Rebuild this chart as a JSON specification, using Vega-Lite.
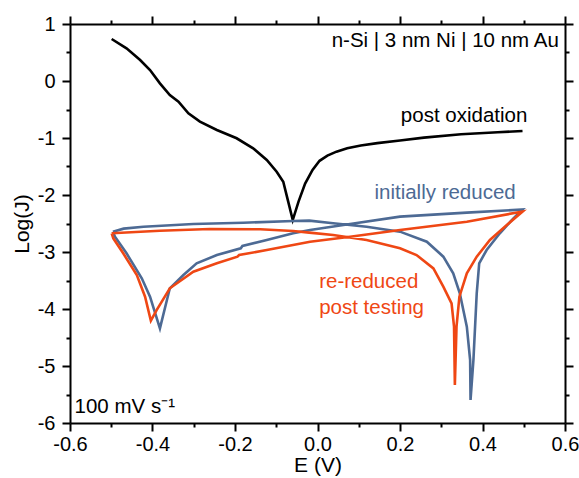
{
  "$schema": "https://vega.github.io/schema/vega-lite/v6.json",
  "width": 495,
  "height": 399,
  "autosize": "none",
  "padding": {"left": 70, "top": 24, "right": 14, "bottom": 55},
  "background": "white",
  "config": {
    "view": {"stroke": null},
    "font": "Liberation Sans",
    "axis": {
      "domainColor": "black", "domainWidth": 2, "tickColor": "black", "tickWidth": 2,
      "labelColor": "black", "labelFontSize": 20, "labelFont": "Liberation Sans",
      "titleColor": "black", "titleFontSize": 21, "titleFontWeight": "normal", "titleFont": "Liberation Sans",
      "grid": false, "labelFlush": false, "labelOverlap": false, "labelBound": false
    }
  },
  "datasets": {
    "curves": [
      {"s":"post","i":1,"E":-0.499,"J":0.737},
      {"s":"post","i":2,"E":-0.463,"J":0.573},
      {"s":"post","i":3,"E":-0.430,"J":0.368},
      {"s":"post","i":4,"E":-0.406,"J":0.193},
      {"s":"post","i":5,"E":-0.382,"J":-0.041},
      {"s":"post","i":6,"E":-0.358,"J":-0.246},
      {"s":"post","i":7,"E":-0.337,"J":-0.363},
      {"s":"post","i":8,"E":-0.313,"J":-0.567},
      {"s":"post","i":9,"E":-0.285,"J":-0.713},
      {"s":"post","i":10,"E":-0.244,"J":-0.860},
      {"s":"post","i":11,"E":-0.196,"J":-1.005},
      {"s":"post","i":12,"E":-0.156,"J":-1.181},
      {"s":"post","i":13,"E":-0.123,"J":-1.386},
      {"s":"post","i":14,"E":-0.099,"J":-1.591},
      {"s":"post","i":15,"E":-0.083,"J":-1.766},
      {"s":"post","i":16,"E":-0.071,"J":-2.117},
      {"s":"post","i":17,"E":-0.060,"J":-2.439},
      {"s":"post","i":18,"E":-0.046,"J":-2.117},
      {"s":"post","i":19,"E":-0.030,"J":-1.800},
      {"s":"post","i":20,"E":-0.012,"J":-1.560},
      {"s":"post","i":21,"E":0.005,"J":-1.400},
      {"s":"post","i":22,"E":0.024,"J":-1.310},
      {"s":"post","i":23,"E":0.046,"J":-1.240},
      {"s":"post","i":24,"E":0.072,"J":-1.180},
      {"s":"post","i":25,"E":0.105,"J":-1.130},
      {"s":"post","i":26,"E":0.145,"J":-1.090},
      {"s":"post","i":27,"E":0.200,"J":-1.045},
      {"s":"post","i":28,"E":0.258,"J":-0.993},
      {"s":"post","i":29,"E":0.348,"J":-0.935},
      {"s":"post","i":30,"E":0.437,"J":-0.900},
      {"s":"post","i":31,"E":0.497,"J":-0.876},

      {"s":"init","i":1,"E":-0.496,"J":-2.643},
      {"s":"init","i":2,"E":-0.470,"J":-2.590},
      {"s":"init","i":3,"E":-0.422,"J":-2.556},
      {"s":"init","i":4,"E":-0.301,"J":-2.509},
      {"s":"init","i":5,"E":-0.180,"J":-2.486},
      {"s":"init","i":6,"E":-0.059,"J":-2.456},
      {"s":"init","i":7,"E":-0.020,"J":-2.450},
      {"s":"init","i":8,"E":0.038,"J":-2.497},
      {"s":"init","i":9,"E":0.119,"J":-2.556},
      {"s":"init","i":10,"E":0.200,"J":-2.643},
      {"s":"init","i":11,"E":0.265,"J":-2.819},
      {"s":"init","i":12,"E":0.305,"J":-3.082},
      {"s":"init","i":13,"E":0.329,"J":-3.374},
      {"s":"init","i":14,"E":0.345,"J":-3.725},
      {"s":"init","i":15,"E":0.362,"J":-4.310},
      {"s":"init","i":16,"E":0.370,"J":-4.895},
      {"s":"init","i":17,"E":0.371,"J":-5.596},
      {"s":"init","i":18,"E":0.378,"J":-4.895},
      {"s":"init","i":19,"E":0.386,"J":-3.725},
      {"s":"init","i":20,"E":0.392,"J":-3.199},
      {"s":"init","i":21,"E":0.410,"J":-2.965},
      {"s":"init","i":22,"E":0.442,"J":-2.672},
      {"s":"init","i":23,"E":0.475,"J":-2.409},
      {"s":"init","i":24,"E":0.497,"J":-2.255},
      {"s":"init","i":25,"E":0.362,"J":-2.310},
      {"s":"init","i":26,"E":0.200,"J":-2.380},
      {"s":"init","i":27,"E":0.079,"J":-2.509},
      {"s":"init","i":28,"E":-0.018,"J":-2.614},
      {"s":"init","i":29,"E":-0.059,"J":-2.672},
      {"s":"init","i":30,"E":-0.123,"J":-2.789},
      {"s":"init","i":31,"E":-0.182,"J":-2.895},
      {"s":"init","i":32,"E":-0.186,"J":-2.936},
      {"s":"init","i":33,"E":-0.244,"J":-3.053},
      {"s":"init","i":34,"E":-0.293,"J":-3.199},
      {"s":"init","i":35,"E":-0.325,"J":-3.404},
      {"s":"init","i":36,"E":-0.358,"J":-3.637},
      {"s":"init","i":37,"E":-0.382,"J":-4.339},
      {"s":"init","i":38,"E":-0.406,"J":-3.784},
      {"s":"init","i":39,"E":-0.426,"J":-3.462},
      {"s":"init","i":40,"E":-0.463,"J":-3.023},
      {"s":"init","i":41,"E":-0.491,"J":-2.731},
      {"s":"init","i":42,"E":-0.496,"J":-2.643},

      {"s":"rered","i":1,"E":-0.499,"J":-2.672},
      {"s":"rered","i":2,"E":-0.382,"J":-2.626},
      {"s":"rered","i":3,"E":-0.261,"J":-2.596},
      {"s":"rered","i":4,"E":-0.139,"J":-2.602},
      {"s":"rered","i":5,"E":-0.059,"J":-2.632},
      {"s":"rered","i":6,"E":-0.020,"J":-2.660},
      {"s":"rered","i":7,"E":0.038,"J":-2.702},
      {"s":"rered","i":8,"E":0.119,"J":-2.789},
      {"s":"rered","i":9,"E":0.200,"J":-2.936},
      {"s":"rered","i":10,"E":0.240,"J":-3.053},
      {"s":"rered","i":11,"E":0.281,"J":-3.287},
      {"s":"rered","i":12,"E":0.305,"J":-3.608},
      {"s":"rered","i":13,"E":0.325,"J":-3.901},
      {"s":"rered","i":14,"E":0.331,"J":-4.310},
      {"s":"rered","i":15,"E":0.333,"J":-5.333},
      {"s":"rered","i":16,"E":0.337,"J":-4.310},
      {"s":"rered","i":17,"E":0.344,"J":-3.784},
      {"s":"rered","i":18,"E":0.362,"J":-3.374},
      {"s":"rered","i":19,"E":0.386,"J":-3.082},
      {"s":"rered","i":20,"E":0.418,"J":-2.789},
      {"s":"rered","i":21,"E":0.459,"J":-2.526},
      {"s":"rered","i":22,"E":0.497,"J":-2.290},
      {"s":"rered","i":23,"E":0.362,"J":-2.468},
      {"s":"rered","i":24,"E":0.200,"J":-2.614},
      {"s":"rered","i":25,"E":0.079,"J":-2.731},
      {"s":"rered","i":26,"E":-0.018,"J":-2.819},
      {"s":"rered","i":27,"E":-0.123,"J":-2.965},
      {"s":"rered","i":28,"E":-0.190,"J":-3.053},
      {"s":"rered","i":29,"E":-0.194,"J":-3.082},
      {"s":"rered","i":30,"E":-0.244,"J":-3.199},
      {"s":"rered","i":31,"E":-0.301,"J":-3.345},
      {"s":"rered","i":32,"E":-0.358,"J":-3.637},
      {"s":"rered","i":33,"E":-0.390,"J":-4.018},
      {"s":"rered","i":34,"E":-0.404,"J":-4.205},
      {"s":"rered","i":35,"E":-0.418,"J":-3.784},
      {"s":"rered","i":36,"E":-0.438,"J":-3.404},
      {"s":"rered","i":37,"E":-0.471,"J":-3.023},
      {"s":"rered","i":38,"E":-0.495,"J":-2.760},
      {"s":"rered","i":39,"E":-0.499,"J":-2.672}
    ],
    "notesLeft": [
      {"label":"post oxidation","s":"post","E":0.202,"J":-0.607},
      {"label":"initially reduced","s":"init","E":0.138,"J":-1.957},
      {"label":"re-reduced","s":"rered","E":0.004,"J":-3.535},
      {"label":"post testing","s":"rered","E":0.004,"J":-3.985},
      {"label":"100 mV s⁻¹","s":"post","E":-0.589,"J":-5.72}
    ],
    "notesRight": [
      {"label":"n-Si | 3 nm Ni | 10 nm Au","s":"post","E":0.585,"J":0.708}
    ]
  },
  "layer": [
    {
      "data": {"name": "curves"},
      "mark": {"type": "line", "strokeWidth": 2.6},
      "encoding": {
        "x": {"field": "E", "type": "quantitative",
              "scale": {"domain": [-0.6, 0.6], "nice": false, "zero": false},
              "axis": {"orient": "bottom", "values": [-0.6,-0.4,-0.2,0,0.2,0.4,0.6], "tickSize": 8, "labelPadding": 3,
                       "labelExpr": "replace(format(datum.value, '.1f'), '\u2212', '-')",
                       "title": "E (V)", "titlePadding": 0}},
        "y": {"field": "J", "type": "quantitative",
              "scale": {"domain": [-6, 1], "nice": false, "zero": false},
              "axis": {"orient": "left", "values": [-6,-5,-4,-3,-2,-1,0,1], "tickSize": 8, "labelPadding": 7,
                       "labelExpr": "replace(format(datum.value, 'd'), '\u2212', '-')",
                       "title": "Log(J)", "titlePadding": 5}},
        "color": {"field": "s", "type": "nominal",
                  "scale": {"domain": ["post","init","rered"], "range": ["#000000","#4d6a94","#ef4714"]},
                  "legend": null},
        "order": {"field": "i", "type": "quantitative"}
      }
    },
    {
      "data": {"name": "curves"},
      "mark": {"type": "line", "opacity": 0},
      "encoding": {
        "x": {"field": "E", "type": "quantitative",
              "axis": {"orient": "bottom", "values": [-0.5,-0.3,-0.1,0.1,0.3,0.5], "tickSize": 4, "labels": false, "domain": false, "title": null}},
        "y": {"field": "J", "type": "quantitative",
              "axis": {"orient": "left", "values": [-5.5,-4.5,-3.5,-2.5,-1.5,-0.5,0.5], "tickSize": 4, "labels": false, "domain": false, "title": null}}
      }
    },
    {
      "data": {"name": "curves"},
      "mark": {"type": "line", "opacity": 0},
      "encoding": {
        "x": {"field": "E", "type": "quantitative",
              "axis": {"orient": "top", "values": [-0.6,-0.4,-0.2,0,0.2,0.4,0.6], "tickSize": 8, "labels": false, "title": null}},
        "y": {"field": "J", "type": "quantitative",
              "axis": {"orient": "right", "values": [-6,-5,-4,-3,-2,-1,0,1], "tickSize": 8, "labels": false, "title": null}}
      }
    },
    {
      "data": {"name": "curves"},
      "mark": {"type": "line", "opacity": 0},
      "encoding": {
        "x": {"field": "E", "type": "quantitative",
              "axis": {"orient": "top", "values": [-0.5,-0.3,-0.1,0.1,0.3,0.5], "tickSize": 4, "labels": false, "domain": false, "title": null}},
        "y": {"field": "J", "type": "quantitative",
              "axis": {"orient": "right", "values": [-5.5,-4.5,-3.5,-2.5,-1.5,-0.5,0.5], "tickSize": 4, "labels": false, "domain": false, "title": null}}
      }
    },
    {
      "data": {"name": "notesLeft"},
      "mark": {"type": "text", "align": "left", "baseline": "middle", "fontSize": 20.5, "font": "Liberation Sans"},
      "encoding": {
        "x": {"field": "E", "type": "quantitative", "axis": null},
        "y": {"field": "J", "type": "quantitative", "axis": null},
        "text": {"field": "label"},
        "color": {"field": "s", "type": "nominal", "legend": null}
      }
    },
    {
      "data": {"name": "notesRight"},
      "mark": {"type": "text", "align": "right", "baseline": "middle", "fontSize": 20.5, "font": "Liberation Sans"},
      "encoding": {
        "x": {"field": "E", "type": "quantitative", "axis": null},
        "y": {"field": "J", "type": "quantitative", "axis": null},
        "text": {"field": "label"},
        "color": {"field": "s", "type": "nominal", "legend": null}
      }
    }
  ],
  "resolve": {"axis": {"x": "independent", "y": "independent"}}
}
